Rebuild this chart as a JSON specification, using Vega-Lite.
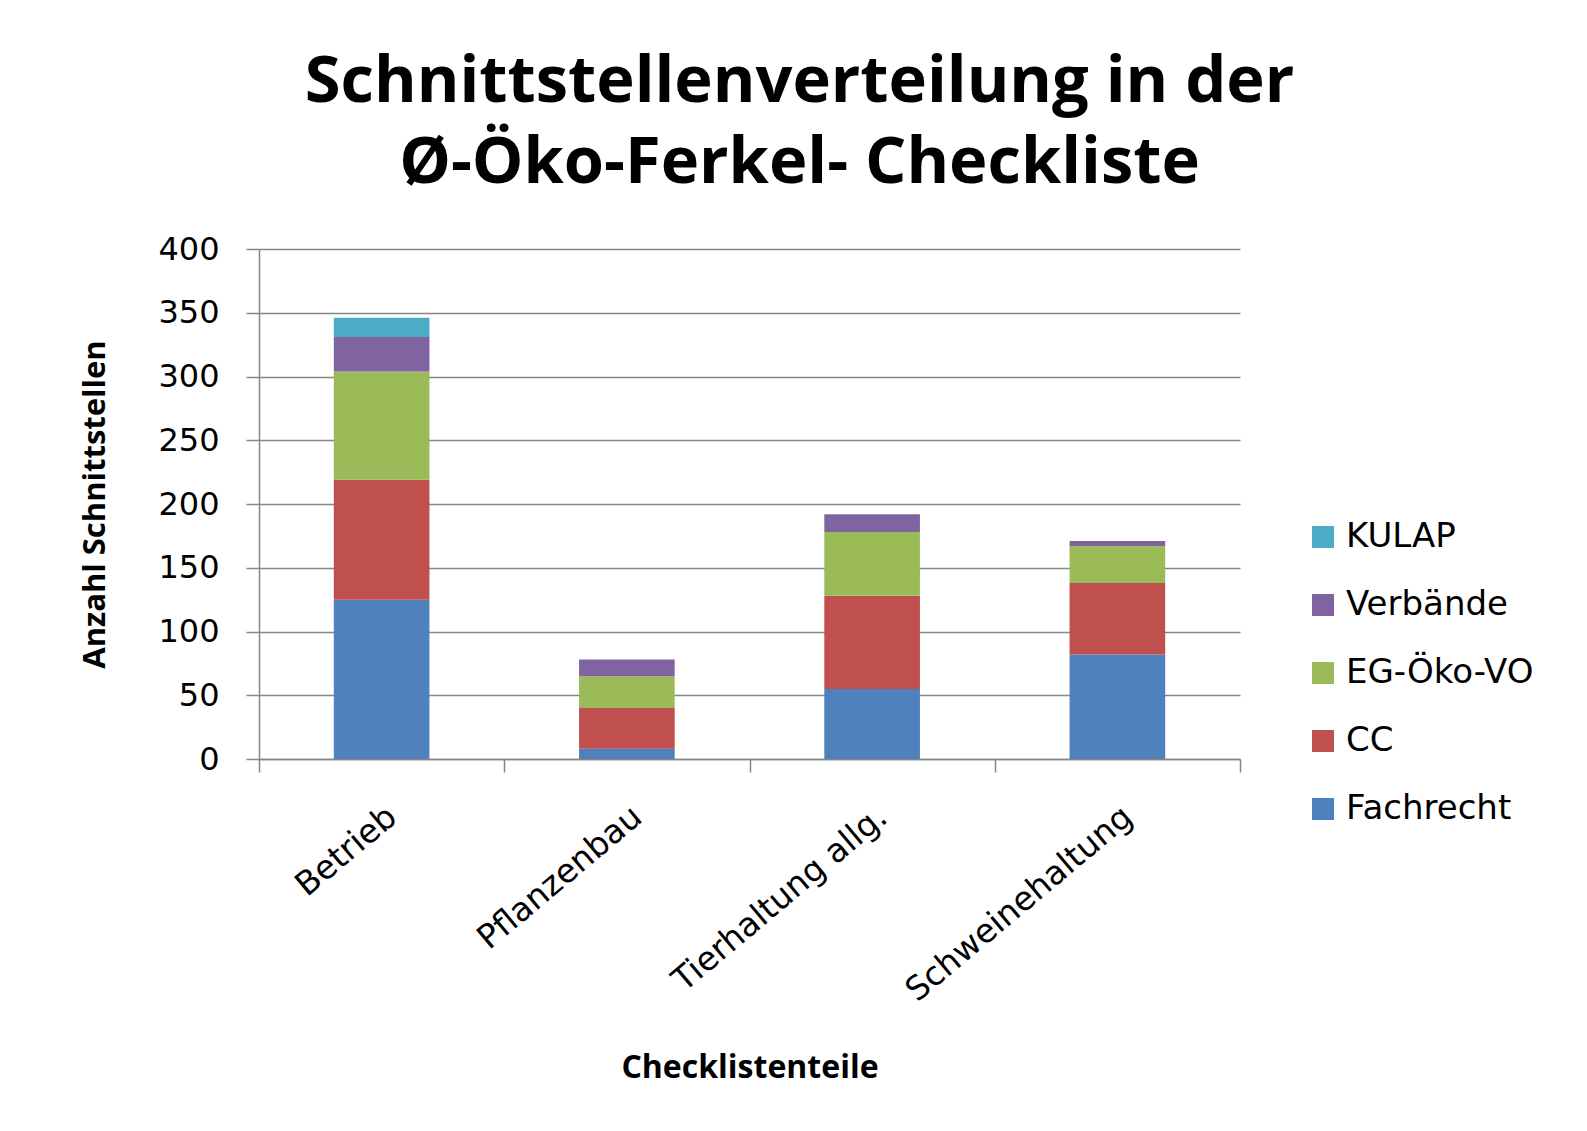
{
  "$schema": "https://vega.github.io/schema/vega-lite/v6.json",
  "width": 981,
  "height": 510,
  "autosize": "none",
  "padding": {"left": 259, "top": 249, "right": 347, "bottom": 372},
  "background": "white",
  "title": {
    "text": ["Schnittstellenverteilung in der", "Ø-Öko-Ferkel- Checkliste"],
    "font": "Open Sans",
    "fontWeight": "bold",
    "fontSize": 65,
    "lineHeight": 81,
    "color": "black",
    "anchor": "middle",
    "dx": 50,
    "offset": 36
  },
  "data": {
    "values": [
      {"teil": "Betrieb", "quelle": "Fachrecht", "rang": 1, "anzahl": 125},
      {"teil": "Betrieb", "quelle": "CC", "rang": 2, "anzahl": 94},
      {"teil": "Betrieb", "quelle": "EG-Öko-VO", "rang": 3, "anzahl": 85},
      {"teil": "Betrieb", "quelle": "Verbände", "rang": 4, "anzahl": 27},
      {"teil": "Betrieb", "quelle": "KULAP", "rang": 5, "anzahl": 15},
      {"teil": "Pflanzenbau", "quelle": "Fachrecht", "rang": 1, "anzahl": 8},
      {"teil": "Pflanzenbau", "quelle": "CC", "rang": 2, "anzahl": 32},
      {"teil": "Pflanzenbau", "quelle": "EG-Öko-VO", "rang": 3, "anzahl": 25},
      {"teil": "Pflanzenbau", "quelle": "Verbände", "rang": 4, "anzahl": 13},
      {"teil": "Pflanzenbau", "quelle": "KULAP", "rang": 5, "anzahl": 0},
      {"teil": "Tierhaltung allg.", "quelle": "Fachrecht", "rang": 1, "anzahl": 55},
      {"teil": "Tierhaltung allg.", "quelle": "CC", "rang": 2, "anzahl": 73},
      {"teil": "Tierhaltung allg.", "quelle": "EG-Öko-VO", "rang": 3, "anzahl": 50},
      {"teil": "Tierhaltung allg.", "quelle": "Verbände", "rang": 4, "anzahl": 14},
      {"teil": "Tierhaltung allg.", "quelle": "KULAP", "rang": 5, "anzahl": 0},
      {"teil": "Schweinehaltung", "quelle": "Fachrecht", "rang": 1, "anzahl": 82},
      {"teil": "Schweinehaltung", "quelle": "CC", "rang": 2, "anzahl": 56},
      {"teil": "Schweinehaltung", "quelle": "EG-Öko-VO", "rang": 3, "anzahl": 29},
      {"teil": "Schweinehaltung", "quelle": "Verbände", "rang": 4, "anzahl": 4},
      {"teil": "Schweinehaltung", "quelle": "KULAP", "rang": 5, "anzahl": 0}
    ]
  },
  "mark": {"type": "bar", "width": {"band": 0.39}},
  "encoding": {
    "x": {
      "field": "teil",
      "type": "nominal",
      "sort": ["Betrieb", "Pflanzenbau", "Tierhaltung allg.", "Schweinehaltung"],
      "scale": {"paddingInner": 0, "paddingOuter": 0},
      "axis": {
        "title": "Checklistenteile",
        "titleFont": "Open Sans",
        "titleFontWeight": "bold",
        "titleFontSize": 32,
        "titleColor": "black",
        "titlePadding": 93,
        "labelFont": "DejaVu Sans",
        "labelFontSize": 33,
        "labelColor": "black",
        "labelAngle": -40,
        "labelPadding": 28,
        "labelLimit": 0,
        "tickBand": "extent",
        "tickSize": 13,
        "tickColor": "#868686",
        "tickWidth": 1.5,
        "domainColor": "#868686",
        "domainWidth": 1.5,
        "grid": false
      }
    },
    "y": {
      "field": "anzahl",
      "type": "quantitative",
      "stack": "zero",
      "scale": {"domain": [0, 400], "nice": false},
      "axis": {
        "title": "Anzahl Schnittstellen",
        "titleFont": "Open Sans",
        "titleFontWeight": "bold",
        "titleFontSize": 31,
        "titleColor": "black",
        "titlePadding": 46,
        "values": [0, 50, 100, 150, 200, 250, 300, 350, 400],
        "labelFont": "DejaVu Sans",
        "labelFontSize": 32,
        "labelColor": "black",
        "labelPadding": 27,
        "tickSize": 13,
        "tickColor": "#868686",
        "tickWidth": 1.5,
        "domainColor": "#868686",
        "domainWidth": 1.5,
        "grid": true,
        "gridColor": "#868686",
        "gridWidth": 1.5
      }
    },
    "color": {
      "field": "quelle",
      "type": "nominal",
      "scale": {
        "domain": ["KULAP", "Verbände", "EG-Öko-VO", "CC", "Fachrecht"],
        "range": ["#4BACC6", "#8064A2", "#9BBB59", "#C0504D", "#4F81BD"]
      },
      "legend": {
        "title": null,
        "orient": "none",
        "legendX": 1047,
        "legendY": 271,
        "labelFont": "DejaVu Sans",
        "labelFontSize": 34,
        "labelColor": "black",
        "labelOffset": 6,
        "labelLimit": 0,
        "symbolType": "square",
        "symbolSize": 484,
        "symbolStrokeWidth": 0,
        "rowPadding": 34
      }
    },
    "order": {"field": "rang", "type": "quantitative"}
  },
  "config": {
    "view": {"stroke": null}
  }
}
